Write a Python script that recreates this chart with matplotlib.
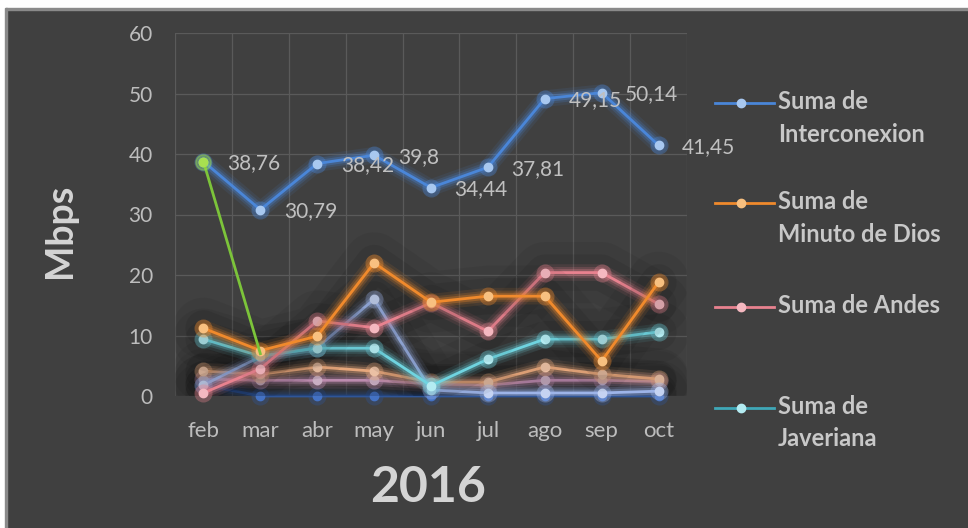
import matplotlib
matplotlib.use("Agg")
import matplotlib.pyplot as plt
from matplotlib.lines import Line2D
from matplotlib.patches import Rectangle

MESES = ["feb", "mar", "abr", "may", "jun", "jul", "ago", "sep", "oct"]
INTERCONEXION = [38.76, 30.79, 38.42, 39.8, 34.44, 37.81, 49.15, 50.14, 41.45]
ETIQUETAS = ["38,76", "30,79", "38,42", "39,8", "34,44", "37,81", "49,15", "50,14", "41,45"]
MINUTO_DE_DIOS = [11.2, 7.5, 9.9, 22.0, 15.5, 16.5, 16.5, 5.8, 18.8]
ANDES = [0.5, 4.5, 12.4, 11.3, 15.4, 10.7, 20.4, 20.4, 15.2]
JAVERIANA = [9.4, 6.6, 7.9, 7.9, 1.7, 6.1, 9.4, 9.4, 10.6]
# series without a legend entry (legend is cut off in the original)
VERDE = [38.76, 7.0, 5.0, 3.5, 1.5, 1.0, 1.5, 1.5, 1.5]
LAVANDA = [1.8, 6.5, 8.0, 16.0, 1.0, 0.5, 0.5, 0.5, 0.8]
NARANJA_BAJO = [4.1, 3.6, 4.8, 4.1, 2.3, 2.3, 4.8, 3.6, 2.8]
ROSA_BAJO = [2.8, 2.6, 2.6, 2.6, 2.0, 1.8, 2.6, 2.6, 2.4]
AZUL_BAJO = [1.8, 0.0, 0.0, 0.0, 0.0, 0.0, 0.0, 0.0, 0.0]

BG = "#404040"
TXT = "#c8c8c8"
FONT = ["Lato", "DejaVu Sans"]

plt.rcParams["font.family"] = FONT

W, H = 968, 528
fig = plt.figure(figsize=(W / 100, H / 100), dpi=100, facecolor=BG)
ax = fig.add_axes([175 / W, 1 - 396 / H, (687 - 175) / W, (396 - 33) / H])
ax.set_facecolor(BG)

x = list(range(len(MESES)))


def glow(y, color, mcolor, z, shadow=True):
    if shadow:
        for lw, a in [(44, 0.05), (26, 0.08)]:
            ax.plot(x, y, color="black", lw=lw, alpha=a, solid_capstyle="round",
                    solid_joinstyle="round", zorder=z - 0.3)
    for lw, a in [(12, 0.10), (8, 0.18), (5, 0.30)]:
        ax.plot(x, y, color=color, lw=lw, alpha=a, solid_capstyle="round",
                solid_joinstyle="round", zorder=z - 0.2)
    ax.plot(x, y, ls="none", marker="o", ms=13, mfc=color, mec="none",
            alpha=0.35, zorder=z - 0.1, clip_on=False)
    ax.plot(x, y, color=color, lw=2, marker="o", ms=6, mfc=mcolor, mec=mcolor,
            zorder=z, clip_on=False)


glow(AZUL_BAJO, "#2f5597", "#4472c4", 2)
glow(ROSA_BAJO, "#d9a0c8", "#e8c8e0", 2.5)
glow(NARANJA_BAJO, "#f4b183", "#f8cbad", 3)
glow(LAVANDA, "#9db4e8", "#c5d3f2", 3.5)
glow(JAVERIANA, "#6fd4e0", "#b4ecf2", 4)
glow(ANDES, "#e8828f", "#f5b8c0", 4.5)
glow(MINUTO_DE_DIOS, "#f08a2c", "#f8c080", 5)
glow(INTERCONEXION, "#4a86d8", "#a8c8f0", 6, shadow=False)
ax.plot(x[:2], VERDE[:2], color="#7cc43a", lw=2, zorder=6.5)
ax.plot(x[0], VERDE[0], marker="o", ms=11, color="#9ee04a", alpha=0.4, zorder=6.6)
ax.plot(x[0], VERDE[0], marker="o", ms=6, color="#a8e050", zorder=6.7)

for xi, yi, lab in zip(x, INTERCONEXION, ETIQUETAS):
    ax.annotate(lab, (xi, yi), xytext=(17, -1), textcoords="offset points",
                ha="left", va="center", color="#c0c0c0", fontsize=15, zorder=7)

ax.set_xlim(-0.5, 8.5)
ax.set_ylim(0, 60)
ax.set_yticks(range(0, 61, 10))
ax.set_xticks(x)
ax.set_xticklabels(MESES)
ax.set_xticks([i - 0.5 for i in range(len(MESES) + 1)], minor=True)
ax.grid(True, which="minor", axis="x", color="#5a5a5a", lw=0.9)
ax.grid(True, which="major", axis="y", color="#5a5a5a", lw=0.9)
ax.set_axisbelow(True)
ax.tick_params(which="both", length=0, colors="#bdbdbd", labelsize=15)
ax.tick_params(axis="x", labelsize=16, pad=18)
ax.tick_params(axis="y", pad=16)
for s in ax.spines.values():
    s.set_visible(False)

fig.text(60 / W, 1 - 231 / H, "Mbps", rotation=90, ha="center", va="center",
         color="#d4d4d4", fontsize=27, fontweight="bold")
fig.text(428 / W, 1 - 488 / H, "2016", ha="center", va="center",
         color="#d4d4d4", fontsize=36, fontweight="bold")

# legend drawn by hand (labels wrap onto two lines)
leyenda = [
    ("Suma de\nInterconexion", "#4a86d8", "#a8c8f0", 103),
    ("Suma de\nMinuto de Dios", "#f08a2c", "#f8c080", 203),
    ("Suma de Andes", "#e8828f", "#f5b8c0", 307),
    ("Suma de\nJaveriana", "#3fa8b8", "#b4ecf2", 408),
]
for lab, c, mc, py in leyenda:
    fy = 1 - py / H
    fig.add_artist(Line2D([715 / W, 774 / W], [fy, fy], color=c, lw=2))
    fig.add_artist(Line2D([741 / W], [fy], marker="o", ms=6, color=mc))
    fig.text(778 / W, fy + 13 / H, lab, ha="left", va="top", color=TXT,
             fontsize=17, fontweight="bold", linespacing=1.5)

# white margin and grey frame at top/left like the screenshot
fig.add_artist(Rectangle((0, 1 - 8 / H), 1, 8 / H, transform=fig.transFigure,
                         color="white", zorder=10))
fig.add_artist(Rectangle((0, 1 - 10 / H), 1, 2 / H, transform=fig.transFigure,
                         color="#8a8a8a", zorder=10))
fig.add_artist(Rectangle((0, 0), 5 / W, 1, transform=fig.transFigure,
                         color="white", zorder=10))
fig.add_artist(Rectangle((5 / W, 0), 2 / W, 1 - 8 / H, transform=fig.transFigure,
                         color="#8a8a8a", zorder=10))

fig.savefig("out.png", dpi=100, facecolor=BG)
